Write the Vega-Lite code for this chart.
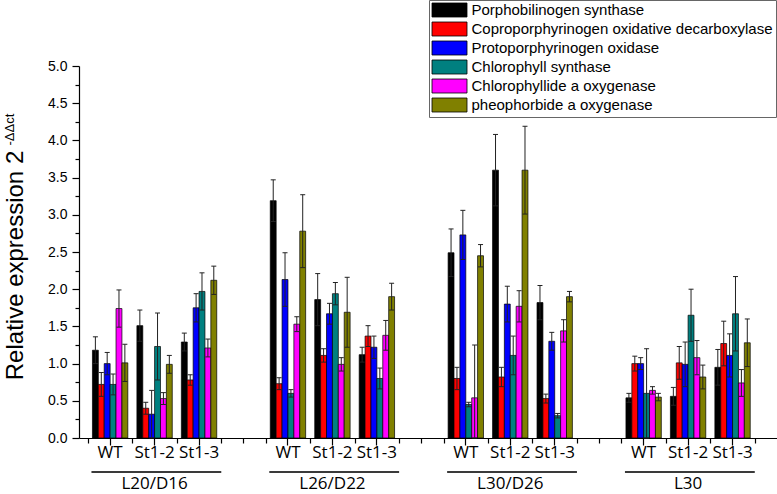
{
  "$schema": "https://vega.github.io/schema/vega-lite/v6.json",
  "width": 698,
  "height": 372,
  "autosize": {"type": "none"},
  "padding": {"left": 79, "top": 66, "right": 0, "bottom": 56},
  "background": "white",
  "config": {"view": {"stroke": null}, "font": "Liberation Sans"},
  "datasets": {
    "bars": [
      {"slot": "L20/D16 WT", "gene": "Porphobilinogen synthase", "v": 1.18, "lo": 1.00, "hi": 1.36},
      {"slot": "L20/D16 WT", "gene": "Coproporphyrinogen oxidative decarboxylase", "v": 0.72, "lo": 0.56, "hi": 0.88},
      {"slot": "L20/D16 WT", "gene": "Protoporphyrinogen oxidase", "v": 1.00, "lo": 0.85, "hi": 1.15},
      {"slot": "L20/D16 WT", "gene": "Chlorophyll synthase", "v": 0.72, "lo": 0.58, "hi": 0.86},
      {"slot": "L20/D16 WT", "gene": "Chlorophyllide a oxygenase", "v": 1.74, "lo": 1.49, "hi": 1.99},
      {"slot": "L20/D16 WT", "gene": "pheophorbide a oxygenase", "v": 1.01, "lo": 0.76, "hi": 1.26},
      {"slot": "L20/D16 St1-2", "gene": "Porphobilinogen synthase", "v": 1.51, "lo": 1.30, "hi": 1.72},
      {"slot": "L20/D16 St1-2", "gene": "Coproporphyrinogen oxidative decarboxylase", "v": 0.40, "lo": 0.32, "hi": 0.48},
      {"slot": "L20/D16 St1-2", "gene": "Protoporphyrinogen oxidase", "v": 0.32, "lo": 0.00, "hi": 0.64},
      {"slot": "L20/D16 St1-2", "gene": "Chlorophyll synthase", "v": 1.23, "lo": 0.78, "hi": 1.68},
      {"slot": "L20/D16 St1-2", "gene": "Chlorophyllide a oxygenase", "v": 0.53, "lo": 0.45, "hi": 0.61},
      {"slot": "L20/D16 St1-2", "gene": "pheophorbide a oxygenase", "v": 0.99, "lo": 0.87, "hi": 1.11},
      {"slot": "L20/D16 St1-3", "gene": "Porphobilinogen synthase", "v": 1.29, "lo": 1.17, "hi": 1.41},
      {"slot": "L20/D16 St1-3", "gene": "Coproporphyrinogen oxidative decarboxylase", "v": 0.78, "lo": 0.71, "hi": 0.85},
      {"slot": "L20/D16 St1-3", "gene": "Protoporphyrinogen oxidase", "v": 1.75, "lo": 1.56, "hi": 1.94},
      {"slot": "L20/D16 St1-3", "gene": "Chlorophyll synthase", "v": 1.97, "lo": 1.72, "hi": 2.22},
      {"slot": "L20/D16 St1-3", "gene": "Chlorophyllide a oxygenase", "v": 1.21, "lo": 1.09, "hi": 1.33},
      {"slot": "L20/D16 St1-3", "gene": "pheophorbide a oxygenase", "v": 2.12, "lo": 1.93, "hi": 2.31},
      {"slot": "L26/D22 WT", "gene": "Porphobilinogen synthase", "v": 3.19, "lo": 2.91, "hi": 3.47},
      {"slot": "L26/D22 WT", "gene": "Coproporphyrinogen oxidative decarboxylase", "v": 0.73, "lo": 0.65, "hi": 0.81},
      {"slot": "L26/D22 WT", "gene": "Protoporphyrinogen oxidase", "v": 2.13, "lo": 1.77, "hi": 2.49},
      {"slot": "L26/D22 WT", "gene": "Chlorophyll synthase", "v": 0.60, "lo": 0.55, "hi": 0.65},
      {"slot": "L26/D22 WT", "gene": "Chlorophyllide a oxygenase", "v": 1.53, "lo": 1.43, "hi": 1.63},
      {"slot": "L26/D22 WT", "gene": "pheophorbide a oxygenase", "v": 2.78, "lo": 2.29, "hi": 3.27},
      {"slot": "L26/D22 St1-2", "gene": "Porphobilinogen synthase", "v": 1.86, "lo": 1.51, "hi": 2.21},
      {"slot": "L26/D22 St1-2", "gene": "Coproporphyrinogen oxidative decarboxylase", "v": 1.11, "lo": 1.02, "hi": 1.20},
      {"slot": "L26/D22 St1-2", "gene": "Protoporphyrinogen oxidase", "v": 1.67, "lo": 1.53, "hi": 1.81},
      {"slot": "L26/D22 St1-2", "gene": "Chlorophyll synthase", "v": 1.94, "lo": 1.79, "hi": 2.09},
      {"slot": "L26/D22 St1-2", "gene": "Chlorophyllide a oxygenase", "v": 0.99, "lo": 0.90, "hi": 1.08},
      {"slot": "L26/D22 St1-2", "gene": "pheophorbide a oxygenase", "v": 1.69, "lo": 1.22, "hi": 2.16},
      {"slot": "L26/D22 St1-3", "gene": "Porphobilinogen synthase", "v": 1.12, "lo": 1.02, "hi": 1.22},
      {"slot": "L26/D22 St1-3", "gene": "Coproporphyrinogen oxidative decarboxylase", "v": 1.37, "lo": 1.23, "hi": 1.51},
      {"slot": "L26/D22 St1-3", "gene": "Protoporphyrinogen oxidase", "v": 1.22, "lo": 1.07, "hi": 1.37},
      {"slot": "L26/D22 St1-3", "gene": "Chlorophyll synthase", "v": 0.80, "lo": 0.66, "hi": 0.94},
      {"slot": "L26/D22 St1-3", "gene": "Chlorophyllide a oxygenase", "v": 1.38, "lo": 1.18, "hi": 1.58},
      {"slot": "L26/D22 St1-3", "gene": "pheophorbide a oxygenase", "v": 1.90, "lo": 1.72, "hi": 2.08},
      {"slot": "L30/D26 WT", "gene": "Porphobilinogen synthase", "v": 2.49, "lo": 2.17, "hi": 2.81},
      {"slot": "L30/D26 WT", "gene": "Coproporphyrinogen oxidative decarboxylase", "v": 0.80, "lo": 0.65, "hi": 0.95},
      {"slot": "L30/D26 WT", "gene": "Protoporphyrinogen oxidase", "v": 2.73, "lo": 2.40, "hi": 3.06},
      {"slot": "L30/D26 WT", "gene": "Chlorophyll synthase", "v": 0.45, "lo": 0.42, "hi": 0.48},
      {"slot": "L30/D26 WT", "gene": "Chlorophyllide a oxygenase", "v": 0.54, "lo": 0.00, "hi": 1.25},
      {"slot": "L30/D26 WT", "gene": "pheophorbide a oxygenase", "v": 2.45, "lo": 2.30, "hi": 2.60},
      {"slot": "L30/D26 St1-2", "gene": "Porphobilinogen synthase", "v": 3.60, "lo": 3.12, "hi": 4.08},
      {"slot": "L30/D26 St1-2", "gene": "Coproporphyrinogen oxidative decarboxylase", "v": 0.82, "lo": 0.69, "hi": 0.95},
      {"slot": "L30/D26 St1-2", "gene": "Protoporphyrinogen oxidase", "v": 1.80, "lo": 1.56, "hi": 2.04},
      {"slot": "L30/D26 St1-2", "gene": "Chlorophyll synthase", "v": 1.11, "lo": 0.85, "hi": 1.37},
      {"slot": "L30/D26 St1-2", "gene": "Chlorophyllide a oxygenase", "v": 1.77, "lo": 1.56, "hi": 1.98},
      {"slot": "L30/D26 St1-2", "gene": "pheophorbide a oxygenase", "v": 3.60, "lo": 3.01, "hi": 4.19},
      {"slot": "L30/D26 St1-3", "gene": "Porphobilinogen synthase", "v": 1.82, "lo": 1.59, "hi": 2.05},
      {"slot": "L30/D26 St1-3", "gene": "Coproporphyrinogen oxidative decarboxylase", "v": 0.53, "lo": 0.47, "hi": 0.59},
      {"slot": "L30/D26 St1-3", "gene": "Protoporphyrinogen oxidase", "v": 1.30, "lo": 1.18, "hi": 1.42},
      {"slot": "L30/D26 St1-3", "gene": "Chlorophyll synthase", "v": 0.30, "lo": 0.27, "hi": 0.33},
      {"slot": "L30/D26 St1-3", "gene": "Chlorophyllide a oxygenase", "v": 1.44, "lo": 1.29, "hi": 1.59},
      {"slot": "L30/D26 St1-3", "gene": "pheophorbide a oxygenase", "v": 1.90, "lo": 1.83, "hi": 1.97},
      {"slot": "L30 WT", "gene": "Porphobilinogen synthase", "v": 0.54, "lo": 0.48, "hi": 0.60},
      {"slot": "L30 WT", "gene": "Coproporphyrinogen oxidative decarboxylase", "v": 1.00, "lo": 0.90, "hi": 1.10},
      {"slot": "L30 WT", "gene": "Protoporphyrinogen oxidase", "v": 1.00, "lo": 0.92, "hi": 1.08},
      {"slot": "L30 WT", "gene": "Chlorophyll synthase", "v": 0.60, "lo": 0.00, "hi": 1.20},
      {"slot": "L30 WT", "gene": "Chlorophyllide a oxygenase", "v": 0.64, "lo": 0.59, "hi": 0.69},
      {"slot": "L30 WT", "gene": "pheophorbide a oxygenase", "v": 0.55, "lo": 0.50, "hi": 0.60},
      {"slot": "L30 St1-2", "gene": "Porphobilinogen synthase", "v": 0.56, "lo": 0.44, "hi": 0.68},
      {"slot": "L30 St1-2", "gene": "Coproporphyrinogen oxidative decarboxylase", "v": 1.01, "lo": 0.79, "hi": 1.23},
      {"slot": "L30 St1-2", "gene": "Protoporphyrinogen oxidase", "v": 0.99, "lo": 0.69, "hi": 1.29},
      {"slot": "L30 St1-2", "gene": "Chlorophyll synthase", "v": 1.65, "lo": 1.30, "hi": 2.00},
      {"slot": "L30 St1-2", "gene": "Chlorophyllide a oxygenase", "v": 1.08, "lo": 0.85, "hi": 1.31},
      {"slot": "L30 St1-2", "gene": "pheophorbide a oxygenase", "v": 0.82, "lo": 0.66, "hi": 0.98},
      {"slot": "L30 St1-3", "gene": "Porphobilinogen synthase", "v": 0.95, "lo": 0.71, "hi": 1.19},
      {"slot": "L30 St1-3", "gene": "Coproporphyrinogen oxidative decarboxylase", "v": 1.27, "lo": 0.97, "hi": 1.57},
      {"slot": "L30 St1-3", "gene": "Protoporphyrinogen oxidase", "v": 1.11, "lo": 0.82, "hi": 1.40},
      {"slot": "L30 St1-3", "gene": "Chlorophyll synthase", "v": 1.67, "lo": 1.17, "hi": 2.17},
      {"slot": "L30 St1-3", "gene": "Chlorophyllide a oxygenase", "v": 0.74, "lo": 0.56, "hi": 0.92},
      {"slot": "L30 St1-3", "gene": "pheophorbide a oxygenase", "v": 1.28, "lo": 0.96, "hi": 1.60}
    ],
    "groups": [
      {"group": "L20/D16", "first": "L20/D16 WT", "mid": "L20/D16 St1-2", "last": "L20/D16 St1-3"},
      {"group": "L26/D22", "first": "L26/D22 WT", "mid": "L26/D22 St1-2", "last": "L26/D22 St1-3"},
      {"group": "L30/D26", "first": "L30/D26 WT", "mid": "L30/D26 St1-2", "last": "L30/D26 St1-3"},
      {"group": "L30", "first": "L30 WT", "mid": "L30 St1-2", "last": "L30 St1-3"}
    ]
  },
  "resolve": {"axis": {"x": "independent", "y": "independent"}},
  "layer": [
    {
      "data": {"name": "bars"},
      "mark": {"type": "bar", "stroke": "#000", "strokeWidth": 0.7},
      "encoding": {
        "x": {
          "field": "slot", "type": "nominal",
          "scale": {
            "domain": ["L20/D16 WT", "L20/D16 St1-2", "L20/D16 St1-3", "g1", "L26/D22 WT", "L26/D22 St1-2", "L26/D22 St1-3", "g2", "L30/D26 WT", "L30/D26 St1-2", "L30/D26 St1-3", "g3", "L30 WT", "L30 St1-2", "L30 St1-3"],
            "paddingInner": 0, "paddingOuter": 0.35, "align": 0.286
          },
          "axis": {
            "orient": "bottom", "title": null, "grid": false,
            "labelExpr": "indexof(datum.label, ' ') > 0 ? split(datum.label, ' ')[1] : ''",
            "labelFont": "Open Sans", "labelFontSize": 17, "labelColor": "#000", "labelAngle": 0,
            "labelBaseline": "alphabetic", "labelPadding": 12,
            "tickSize": {"condition": {"test": "indexof(datum.value, ' ') < 0", "value": 5}, "value": 7},
            "tickColor": "#000", "tickWidth": 1.2, "domainColor": "#000", "domainWidth": 1.2
          }
        },
        "xOffset": {
          "field": "gene", "type": "nominal",
          "scale": {"domain": ["Porphobilinogen synthase", "Coproporphyrinogen oxidative decarboxylase", "Protoporphyrinogen oxidase", "Chlorophyll synthase", "Chlorophyllide a oxygenase", "pheophorbide a oxygenase"], "paddingInner": 0, "paddingOuter": 0.77}
        },
        "y": {
          "field": "v", "type": "quantitative",
          "scale": {"domain": [0, 5], "nice": false},
          "axis": {
            "orient": "left", "grid": false,
            "values": [0, 0.25, 0.5, 0.75, 1, 1.25, 1.5, 1.75, 2, 2.25, 2.5, 2.75, 3, 3.25, 3.5, 3.75, 4, 4.25, 4.5, 4.75, 5],
            "labelExpr": "datum.value % 0.5 == 0 ? format(datum.value, '.1f') : ''",
            "labelFontSize": 14, "labelColor": "#000", "labelPadding": 5,
            "tickSize": {"condition": {"test": "datum.value % 0.5 != 0", "value": 4}, "value": 7},
            "tickColor": "#000", "tickWidth": 1.2, "domainColor": "#000", "domainWidth": 1.2,
            "title": "Relative expression 2", "titleFontSize": 24, "titleFontWeight": "normal", "titleColor": "#000",
            "titleAngle": 270, "titleAlign": "center", "titleBaseline": "alphabetic", "titleX": -57, "titleY": 199
          }
        },
        "color": {
          "field": "gene", "type": "nominal",
          "scale": {
            "domain": ["Porphobilinogen synthase", "Coproporphyrinogen oxidative decarboxylase", "Protoporphyrinogen oxidase", "Chlorophyll synthase", "Chlorophyllide a oxygenase", "pheophorbide a oxygenase"],
            "range": ["#000000", "#ff0000", "#0000ff", "#008080", "#ff00ff", "#808000"]
          },
          "legend": {
            "orient": "none", "legendX": 350, "legendY": -66, "title": null,
            "symbolType": "M-2.5,-1H2.5V1H-2.5Z", "symbolSize": 196, "symbolOffset": 10.5,
            "symbolStrokeColor": "#000", "symbolStrokeWidth": 0.8, "symbolOpacity": 1,
            "labelFont": "Liberation Sans", "labelFontSize": 15, "labelColor": "#000", "labelLimit": 500,
            "labelOffset": 14.5, "rowPadding": 0, "padding": 2.5,
            "strokeColor": "#666", "fillColor": "#fff"
          }
        }
      }
    },
    {
      "data": {"name": "bars"},
      "mark": {"type": "rule", "stroke": "#222", "strokeWidth": 1},
      "encoding": {
        "x": {
          "field": "slot", "type": "nominal",
          "axis": {"orient": "bottom", "tickBand": "extent", "labels": false, "domain": false, "grid": false, "title": null, "tickSize": 5, "tickColor": "#000", "tickWidth": 1.2}
        },
        "xOffset": {"field": "gene", "type": "nominal"},
        "y": {
          "field": "lo", "type": "quantitative",
          "axis": {
            "orient": "left", "labels": false, "ticks": false, "domain": false, "grid": false,
            "title": "-ΔΔct", "titleFontSize": 13, "titleFontWeight": "normal", "titleColor": "#000",
            "titleAngle": 270, "titleAlign": "left", "titleBaseline": "alphabetic", "titleX": -66, "titleY": 79
          }
        },
        "y2": {"field": "hi"}
      }
    },
    {
      "data": {"name": "bars"},
      "mark": {"type": "tick", "color": "#222", "size": 5, "thickness": 1, "opacity": 1},
      "encoding": {
        "x": {"field": "slot", "type": "nominal", "axis": null},
        "xOffset": {"field": "gene", "type": "nominal"},
        "y": {"field": "hi", "type": "quantitative", "axis": null}
      }
    },
    {
      "data": {"name": "bars"},
      "mark": {"type": "tick", "color": "#222", "size": 5, "thickness": 1, "opacity": 1},
      "encoding": {
        "x": {"field": "slot", "type": "nominal", "axis": null},
        "xOffset": {"field": "gene", "type": "nominal"},
        "y": {"field": "lo", "type": "quantitative", "axis": null}
      }
    },
    {
      "data": {"name": "groups"},
      "mark": {"type": "rule", "stroke": "#3a3a3a", "strokeWidth": 1.8},
      "encoding": {
        "x": {"field": "first", "type": "nominal", "bandPosition": 0.08, "axis": null},
        "x2": {"field": "last", "bandPosition": 1},
        "y": {"datum": -0.457, "axis": null}
      }
    },
    {
      "data": {"name": "groups"},
      "mark": {"type": "text", "font": "Open Sans", "fontSize": 17, "baseline": "alphabetic", "align": "center", "color": "#000"},
      "encoding": {
        "x": {"field": "mid", "type": "nominal", "axis": null},
        "y": {"datum": -0.69, "axis": null},
        "text": {"field": "group"}
      }
    }
  ]
}
